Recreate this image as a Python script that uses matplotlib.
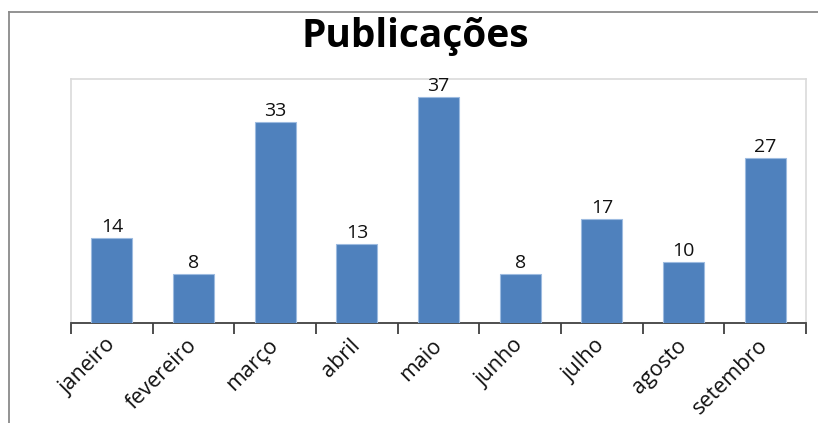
import matplotlib
matplotlib.use("Agg")
import matplotlib.pyplot as plt
from matplotlib.lines import Line2D

months = ["janeiro", "fevereiro", "março", "abril", "maio", "junho", "julho", "agosto", "setembro"]
values = [14, 8, 33, 13, 37, 8, 17, 10, 27]
title = "Publicações"

plt.rcParams['font.family'] = ['Open Sans', 'DejaVu Sans']

W, H = 818, 423
fig = plt.figure(figsize=(W / 100, H / 100), dpi=100)
fig.patch.set_facecolor("white")

# outer chart frame (top and left visible)
fig.add_artist(Line2D([8.5 / W, 1.0], [1 - 12.5 / H, 1 - 12.5 / H], color="#8a8a8a", lw=1.3))
fig.add_artist(Line2D([8.5 / W, 8.5 / W], [0, 1 - 12.5 / H], color="#8a8a8a", lw=1.3))

ax = fig.add_axes([71 / W, 1 - 323 / H, (806 - 71) / W, (323 - 79) / H])
x = list(range(len(months)))
bars = ax.bar(x, values, width=0.5, color="#4F81BD", edgecolor="#9dbbe0", linewidth=0.8, zorder=3)
ax.set_xlim(-0.5, len(months) - 0.5)
ax.set_ylim(0, 40)

for xi, v in zip(x, values):
    ax.text(xi, v + 0.3, str(v), ha="center", va="bottom", fontsize=14, color="#111111")

for side in ["left", "top", "right"]:
    ax.spines[side].set_color("#dadada")
    ax.spines[side].set_linewidth(1.2)
ax.spines["bottom"].set_color("#404040")
ax.spines["bottom"].set_linewidth(1.3)

ax.set_yticks([])
ax.set_xticks([i - 0.5 for i in range(len(months) + 1)], minor=False)
ax.set_xticklabels([])
ax.tick_params(axis="x", direction="out", length=8, width=1.3, color="#404040")
ax.set_xticks(x, minor=True)
ax.set_xticklabels(months, minor=True, rotation=45, ha="right", va="center",
                   rotation_mode="anchor", fontsize=15.5, color="#111111")
ax.tick_params(axis="x", which="minor", length=0, pad=14)

fig.text(415 / W, 1 - 37 / H, title, ha="center", va="center", fontsize=28, fontweight="bold", color="#000000")

fig.savefig("out.png", dpi=100)
